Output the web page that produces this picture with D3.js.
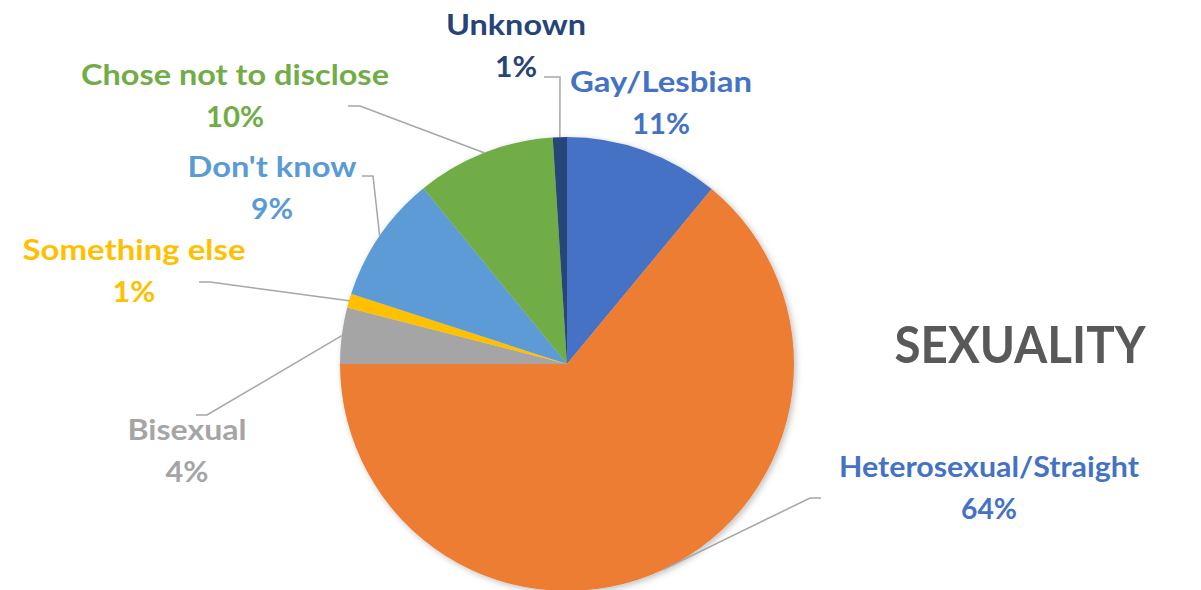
<!DOCTYPE html>
<html>
<head>
<meta charset="utf-8">
<script src="https://cdn.jsdelivr.net/npm/d3@7"></script>
<style>
  html, body { margin: 0; padding: 0; background: #ffffff; }
  svg { display: block; }
  text { font-family: Lato, "Open Sans", sans-serif; font-weight: 700; }
</style>
</head>
<body>
<svg id="chart" width="1201" height="590"></svg>
<script>
// ---- data ----
const categories = ["Gay/Lesbian", "Heterosexual/Straight", "Bisexual", "Something else", "Don't know", "Chose not to disclose", "Unknown"];
const values = [11.0, 64.0, 4.0, 1.0, 9.1, 9.9, 1.0];
const percentLabels = ["11%", "64%", "4%", "1%", "9%", "10%", "1%"];
const chartTitle = "SEXUALITY";

// ---- styles ----
const sliceColors = ["#4472C4", "#ED7D31", "#A5A5A5", "#FFC000", "#5B9BD5", "#70AD47", "#264478"];
const labelColors = ["#4472C4", "#4472C4", "#A5A5A5", "#FFC000", "#5B9BD5", "#70AD47", "#264478"];

// ---- label layout: center x, baseline y of name line, widths, leader elbow ----
const labelX = [661, 989, 187, 134, 272, 235, 516];
const labelY = [92, 477, 440, 260, 177, 85, 35];
const nameWidths = [182, 300, 119, 223, 169, 308, 140];
const pctWidths = [58, 56, 43, 43, 42, 58, 42];
const leaderStart = [null, [821, 498], [196, 415], [199, 282], [362, 176], [348, 106], [544, 77]];
const leaderElbow = [null, [810, 498], [207, 415], [210, 282], [373, 176], [360, 106], [560, 77]];

const cx = 567, cy = 364, radius = 227;
const lineGap = 42;

const svg = d3.select("#chart");

const defs = svg.append("defs");
const filt = defs.append("filter").attr("id", "shadow")
  .attr("x", "-10%").attr("y", "-10%").attr("width", "120%").attr("height", "120%");
filt.append("feDropShadow").attr("dx", 2).attr("dy", 2).attr("stdDeviation", 3)
  .attr("flood-color", "#000").attr("flood-opacity", 0.25);

const pie = d3.pie().sort(null).value(d => d)(values);
const arc = d3.arc().innerRadius(0).outerRadius(radius);

const g = svg.append("g").attr("transform", `translate(${cx},${cy})`);
g.append("g").attr("filter", "url(#shadow)")
  .selectAll("path").data(pie).join("path")
  .attr("d", arc)
  .attr("fill", (d, i) => sliceColors[i])
  .attr("stroke", "none");

// leader lines to slice mid-angle on the pie edge
pie.forEach((d, i) => {
  if (!leaderStart[i]) return;
  const mid = (d.startAngle + d.endAngle) / 2;
  const ex = cx + radius * Math.sin(mid);
  const ey = cy - radius * Math.cos(mid);
  svg.append("polyline")
    .attr("points", [leaderStart[i], leaderElbow[i], [ex, ey]].map(p => p.join(",")).join(" "))
    .attr("fill", "none")
    .attr("stroke", "#A6A6A6")
    .attr("stroke-width", 1.5);
});

// labels
categories.forEach((c, i) => {
  const t1 = svg.append("text")
    .attr("x", labelX[i]).attr("y", labelY[i])
    .attr("text-anchor", "middle")
    .attr("font-size", 28)
    .attr("fill", labelColors[i])
    .attr("textLength", nameWidths[i])
    .attr("lengthAdjust", "spacingAndGlyphs")
    .text(c);
  svg.append("text")
    .attr("x", labelX[i]).attr("y", labelY[i] + lineGap)
    .attr("text-anchor", "middle")
    .attr("font-size", 28)
    .attr("fill", labelColors[i])
    .attr("textLength", pctWidths[i])
    .attr("lengthAdjust", "spacingAndGlyphs")
    .text(percentLabels[i]);
});

svg.append("text")
  .attr("x", 1020).attr("y", 363)
  .attr("text-anchor", "middle")
  .attr("font-size", 51)
  .attr("fill", "#595959")
  .attr("textLength", 251)
  .attr("lengthAdjust", "spacingAndGlyphs")
  .text(chartTitle);
</script>
</body>
</html>
